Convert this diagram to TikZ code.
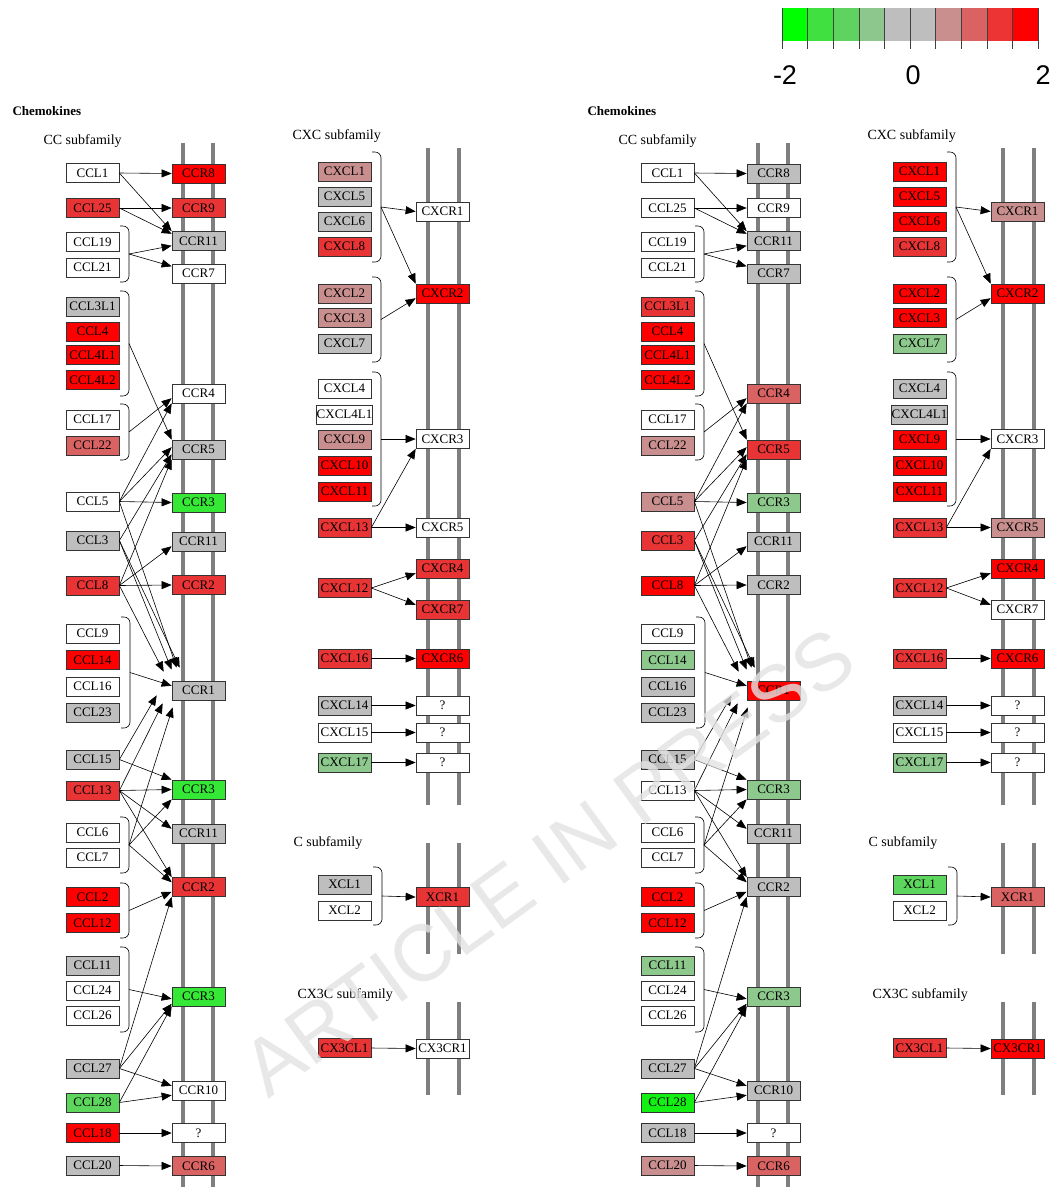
\documentclass[tikz,border=0pt]{standalone}
\usepackage{fontspec}
\setmainfont{Liberation Serif}
\newfontfamily\keyfont{Liberation Sans}
\usetikzlibrary{arrows.meta,calc}

% expression scale
\definecolor{up4}{HTML}{FF0000}
\definecolor{up3}{HTML}{E83434}
\definecolor{up2}{HTML}{D96262}
\definecolor{up1}{HTML}{C98F8F}
\definecolor{mid}{HTML}{BEBEBE}
\definecolor{dn1}{HTML}{8DC98D}
\definecolor{dn2}{HTML}{5CD65C}
\definecolor{dn3}{HTML}{36E836}
\definecolor{dn4}{HTML}{14F014}
\definecolor{lipid}{HTML}{7F7F7F}

\tikzset{
  gene/.style={draw=black!80, line width=0.7pt, fill=white, minimum width=53pt,
    minimum height=19pt, inner sep=0pt, font=\fontsize{13}{13}\selectfont},
  arr/.style={-{Triangle[length=10pt,width=8pt]}, line width=0.6pt},
  membrane/.style={draw=lipid, line width=3.6pt},
  bracket/.style={draw=black, line width=0.6pt, rounded corners=6pt},
  family/.style={anchor=west, font=\fontsize{14}{14}\selectfont},
}

% ligand group bracket: name, x, top, bottom
\newcommand\ligbracket[4]{%
  \draw[bracket] (#2,#3) -- (#2+9,#3) -- (#2+9,#4) -- (#2,#4);
  \coordinate (#1) at (#2+9,{(#3+#4)/2});}

% ligand -> receptor arrows of one panel
\newcommand\chemolinks[1]{%
  \draw[arr] (#1-CCL1.east) -- (#1-CCR8.west);
  \draw[arr] (#1-CCL1.east) -- (#1-CCR11a.north west);
  \draw[arr] (#1-CCL25.east) -- (#1-CCR9.west);
  \draw[arr] (#1-CCL25.east) -- (#1-CCR11a.165);
  \draw[arr] (#1-b19) -- (#1-CCR11a.190);
  \draw[arr] (#1-b19) -- (#1-CCR7.165);
  \draw[arr] (#1-b3L1) -- (#1-CCR5.north west);
  \draw[arr] (#1-b17) -- (#1-CCR4.190);
  \draw[arr] (#1-CCL5.east) -- (#1-CCR4.south west);
  \draw[arr] (#1-CCL5.east) -- (#1-CCR5.175);
  \draw[arr] (#1-CCL5.east) -- (#1-CCR3a.west);
  \draw[arr] (#1-CCL3.east) -- (#1-CCR5.190);
  \draw[arr] (#1-CCL8.east) -- (#1-CCR5.south west);
  \draw[arr] (#1-CCL8.east) -- (#1-CCR11b.190);
  \draw[arr] (#1-CCL8.east) -- (#1-CCR2a.west);
  \draw[arr] (#1-CCL5.east) -- ([xshift=5pt,yshift=13pt]#1-CCR1.north west);
  \draw[arr] (#1-CCL3.east) -- ([xshift=8pt,yshift=13pt]#1-CCR1.north west);
  \draw[arr] (#1-CCL3.east) -- ([xshift=0pt,yshift=11pt]#1-CCR1.north west);
  \draw[arr] (#1-CCL8.east) -- ([xshift=-8pt,yshift=9pt]#1-CCR1.north west);
  \draw[arr] (#1-b9) -- (#1-CCR1.170);
  \draw[arr] (#1-CCL15.east) -- ([xshift=-15pt,yshift=5pt]#1-CCR1.south west);
  \draw[arr] (#1-CCL13.east) -- ([xshift=-9pt,yshift=-3pt]#1-CCR1.south west);
  \draw[arr] (#1-b6) -- ([xshift=1pt,yshift=-7pt]#1-CCR1.south west);
  \draw[arr] (#1-CCL15.east) -- (#1-CCR3b.north west);
  \draw[arr] (#1-CCL13.east) -- (#1-CCR3b.west);
  \draw[arr] (#1-CCL13.east) -- (#1-CCR11c.170);
  \draw[arr] (#1-CCL13.east) -- (#1-CCR2b.north west);
  \draw[arr] (#1-b6) -- (#1-CCR3b.south west);
  \draw[arr] (#1-b6) -- (#1-CCR2b.170);
  \draw[arr] (#1-b2) -- (#1-CCR2b.190);
  \draw[arr] (#1-b11) -- (#1-CCR3c.185);
  \draw[arr] (#1-CCL27.east) -- (#1-CCR2b.south west);
  \draw[arr] (#1-CCL27.east) -- (#1-CCR3c.195);
  \draw[arr] (#1-CCL28.east) -- (#1-CCR3c.south west);
  \draw[arr] (#1-CCL27.east) -- (#1-CCR10.170);
  \draw[arr] (#1-CCL28.east) -- (#1-CCR10.190);
  \draw[arr] (#1-CCL18.east) -- (#1-CCRq.west);
  \draw[arr] (#1-CCL20.east) -- (#1-CCR6.west);
  % CXC, C and CX3C
  \draw[arr] (#1-bx1) -- (#1-CXCR1.west);
  \draw[arr] (#1-bx1) -- (#1-CXCR2.north west);
  \draw[arr] (#1-bx2) -- (#1-CXCR2.190);
  \draw[arr] (#1-bx4) -- (#1-CXCR3.west);
  \draw[arr] (#1-CXCL13.east) -- (#1-CXCR3.south west);
  \draw[arr] (#1-CXCL13.east) -- (#1-CXCR5.west);
  \draw[arr] (#1-CXCL12.east) -- (#1-CXCR4.190);
  \draw[arr] (#1-CXCL12.east) -- (#1-CXCR7.170);
  \draw[arr] (#1-CXCL16.east) -- (#1-CXCR6.west);
  \draw[arr] (#1-CXCL14.east) -- (#1-CXq1.west);
  \draw[arr] (#1-CXCL15.east) -- (#1-CXq2.west);
  \draw[arr] (#1-CXCL17.east) -- (#1-CXq3.west);
  \draw[arr] (#1-bxc) -- (#1-XCR1.west);
  \draw[arr] (#1-CX3CL1.east) -- (#1-CX3CR1.west);
}

\begin{document}
\begin{tikzpicture}[x=1pt,y=-1pt]
  \useasboundingbox[fill=white] (0,0) rectangle (1052,1187);

  % colour key
  \foreach \c [count=\k from 0] in {00FF00,3FE03F,5FD35F,8EC78E,BEBEBE,BEBEBE,C98E8E,DB6262,ED3434,FF0000}{
    \definecolor{keycell}{HTML}{\c}
    \fill[keycell] (782+\k*25.6,8) rectangle ++(25.6,33);
  }
  \foreach \k in {0,...,10}
    \draw[black!75, line width=0.6pt] (782+\k*25.6,8) -- ++(0,41);
  \node[font=\keyfont\fontsize{27}{27}\selectfont] (keylo) at (785,75) {-2};
  \node[font=\keyfont\fontsize{27}{27}\selectfont] (keymid) at (913,75) {0};
  \node[font=\keyfont\fontsize{27}{27}\selectfont] (keyhi) at (1043,75) {2};

  % frame shared by both panels
  \foreach \p/\dx in {L/0,R/575}{
    \begin{scope}[xshift=\dx pt]
      \node[anchor=west, font=\bfseries\fontsize{13}{13}\selectfont] (\p-title) at (9,111) {Chemokines};
      \node[family] (\p-cc) at (40,141) {CC subfamily};
      \node[family] (\p-cxc) at (289,136) {CXC subfamily};
      \node[family] (\p-c) at (290,843) {C subfamily};
      \node[family] (\p-cx3c) at (294,995) {CX3C subfamily};
      \draw[membrane] (183,143) -- (183,1187);
      \draw[membrane] (213,143) -- (213,1187);
      \foreach \a/\b in {148/805,843/954,1002/1095}{
        \draw[membrane] (428,\a) -- (428,\b);
        \draw[membrane] (459,\a) -- (459,\b);
      }
      \ligbracket{\p-b19}{120}{226}{282}
      \ligbracket{\p-b3L1}{120}{291}{396}
      \ligbracket{\p-b17}{120}{404}{460}
      \ligbracket{\p-b9}{121}{617}{728}
      \ligbracket{\p-b6}{120}{817}{873}
      \ligbracket{\p-b2}{120}{883}{938}
      \ligbracket{\p-b11}{120}{947}{1032}
      \ligbracket{\p-bx1}{372}{152}{262}
      \ligbracket{\p-bx2}{372}{277}{362}
      \ligbracket{\p-bx4}{372}{372}{506}
      \ligbracket{\p-bxc}{373}{867}{925}
    \end{scope}
  }

  % left panel genes
  \foreach \i/\y/\c in {CCL1/173/white, CCL25/208/up3, CCL19/242/white, CCL21/267.5/white,
      CCL3L1/306.5/mid, CCL4/331.5/up4, CCL4L1/355/up4, CCL4L2/380/up4, CCL17/419.5/white,
      CCL22/445.5/up2, CCL5/501.5/white, CCL3/540.5/mid, CCL8/585.5/up3, CCL9/633.5/white,
      CCL14/660/up4, CCL16/686.5/white, CCL23/712.5/mid, CCL15/759.5/mid, CCL13/790.5/up3,
      CCL6/832.5/white, CCL7/857.5/white, CCL2/897/up4, CCL12/923/up4, CCL11/965.5/mid,
      CCL24/990.5/white, CCL26/1015.5/white, CCL27/1068.5/mid, CCL28/1102.5/dn2,
      CCL18/1133/up4, CCL20/1165.5/mid}
    \node[gene, fill=\c] (L-\i) at (92.5,\y) {\i};
  \foreach \i/\t/\y/\c in {CCR8/CCR8/173.5/up4, CCR9/CCR9/208/up3, CCR11a/CCR11/241/mid,
      CCR7/CCR7/273.5/white, CCR4/CCR4/393.5/white, CCR5/CCR5/449.5/mid, CCR3a/CCR3/502.5/dn3,
      CCR11b/CCR11/541.5/mid, CCR2a/CCR2/585/up3, CCR1/CCR1/690.5/mid, CCR3b/CCR3/789.5/dn3,
      CCR11c/CCR11/833.5/mid, CCR2b/CCR2/887/up3, CCR3c/CCR3/996.5/dn3,
      CCR10/CCR10/1090.5/white, CCRq/?/1133/white, CCR6/CCR6/1166/up2}
    \node[gene, fill=\c] (L-\i) at (198.5,\y) {\t};
  \foreach \i/\y/\c in {CXCL1/171.5/up1, CXCL5/196.5/mid, CXCL6/221.5/mid, CXCL8/246.5/up3,
      CXCL2/293.5/up1, CXCL3/318/up1, CXCL7/343.5/mid, CXCL4/388.5/white, CXCL4L1/414.5/white,
      CXCL9/439.5/up1, CXCL10/465.5/up4, CXCL11/491.5/up4, CXCL13/527.5/up3, CXCL12/588/up3,
      CXCL16/658.5/up3, CXCL14/705.5/mid, CXCL15/732.5/white, CXCL17/762.5/dn1,
      XCL1/884.5/mid, XCL2/910.5/white, CX3CL1/1048/up3}
    \node[gene, fill=\c] (L-\i) at (344.5,\y) {\i};
  \foreach \i/\t/\y/\c in {CXCR1/CXCR1/211.5/white, CXCR2/CXCR2/293.5/up4,
      CXCR3/CXCR3/439/white, CXCR5/CXCR5/527.5/white, CXCR4/CXCR4/568.5/up3,
      CXCR7/CXCR7/609.5/up3, CXCR6/CXCR6/658.5/up4, CXq1/?/705.5/white, CXq2/?/732.5/white,
      CXq3/?/762.5/white, XCR1/XCR1/897/up3, CX3CR1/CX3CR1/1048.5/white}
    \node[gene, fill=\c] (L-\i) at (442.5,\y) {\t};

  % right panel genes
  \begin{scope}[xshift=575pt]
  \foreach \i/\y/\c in {CCL1/173/white, CCL25/208/white, CCL19/242/white, CCL21/267.5/white,
      CCL3L1/306.5/up3, CCL4/331.5/up4, CCL4L1/355/up4, CCL4L2/380/up4, CCL17/419.5/white,
      CCL22/445.5/up1, CCL5/501.5/up1, CCL3/540.5/up3, CCL8/585.5/up4, CCL9/633.5/white,
      CCL14/660/dn1, CCL16/686.5/mid, CCL23/712.5/mid, CCL15/759.5/mid, CCL13/790.5/white,
      CCL6/832.5/white, CCL7/857.5/white, CCL2/897/up4, CCL12/923/up4, CCL11/965.5/dn1,
      CCL24/990.5/white, CCL26/1015.5/white, CCL27/1068.5/mid, CCL28/1102.5/dn4,
      CCL18/1133/mid, CCL20/1165.5/up1}
    \node[gene, fill=\c] (R-\i) at (92.5,\y) {\i};
  \foreach \i/\t/\y/\c in {CCR8/CCR8/173.5/mid, CCR9/CCR9/208/white, CCR11a/CCR11/241/mid,
      CCR7/CCR7/273.5/mid, CCR4/CCR4/393.5/up2, CCR5/CCR5/449.5/up3, CCR3a/CCR3/502.5/dn1,
      CCR11b/CCR11/541.5/mid, CCR2a/CCR2/585/mid, CCR1/CCR1/690.5/up4, CCR3b/CCR3/789.5/dn1,
      CCR11c/CCR11/833.5/mid, CCR2b/CCR2/887/mid, CCR3c/CCR3/996.5/dn1,
      CCR10/CCR10/1090.5/mid, CCRq/?/1133/white, CCR6/CCR6/1166/up2}
    \node[gene, fill=\c] (R-\i) at (198.5,\y) {\t};
  \foreach \i/\y/\c in {CXCL1/171.5/up4, CXCL5/196.5/up4, CXCL6/221.5/up4, CXCL8/246.5/up3,
      CXCL2/293.5/up4, CXCL3/318/up4, CXCL7/343.5/dn1, CXCL4/388.5/mid, CXCL4L1/414.5/mid,
      CXCL9/439.5/up4, CXCL10/465.5/up4, CXCL11/491.5/up4, CXCL13/527.5/up3, CXCL12/588/up3,
      CXCL16/658.5/up3, CXCL14/705.5/mid, CXCL15/732.5/white, CXCL17/762.5/dn1,
      XCL1/884.5/dn2, XCL2/910.5/white, CX3CL1/1048/up3}
    \node[gene, fill=\c] (R-\i) at (344.5,\y) {\i};
  \foreach \i/\t/\y/\c in {CXCR1/CXCR1/211.5/up1, CXCR2/CXCR2/293.5/up4,
      CXCR3/CXCR3/439/white, CXCR5/CXCR5/527.5/up1, CXCR4/CXCR4/568.5/up4,
      CXCR7/CXCR7/609.5/white, CXCR6/CXCR6/658.5/up4, CXq1/?/705.5/white, CXq2/?/732.5/white,
      CXq3/?/762.5/white, XCR1/XCR1/897/up2, CX3CR1/CX3CR1/1048.5/up4}
    \node[gene, fill=\c] (R-\i) at (442.5,\y) {\t};
  \end{scope}

  \foreach \p in {L,R}{\chemolinks{\p}}

  % watermark
  \node[rotate=36, text=gray!22, opacity=0.8, font=\keyfont\fontsize{80}{80}\selectfont]
    (stamp) at (548,862) {ARTICLE IN PRESS};
\end{tikzpicture}
\end{document}
